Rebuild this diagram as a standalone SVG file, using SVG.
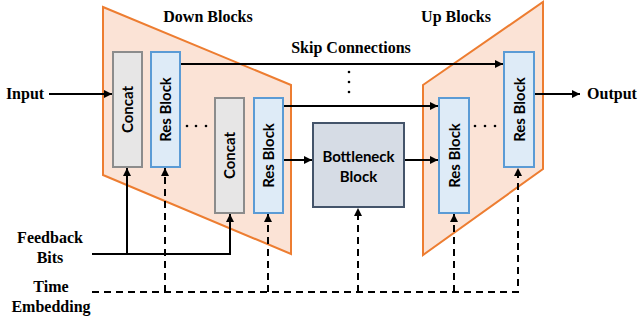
<svg xmlns="http://www.w3.org/2000/svg" width="639" height="323" viewBox="0 0 639 323">
  <defs>
    <marker id="arr" viewBox="0 0 10 10" refX="10" refY="5" markerWidth="4" markerHeight="4" orient="auto" markerUnits="strokeWidth">
      <path d="M0,0 L10,5 L0,10 z" fill="#000"/>
    </marker>
    <style>
      .stage { fill: #FBE3D6; stroke: #ED7D31; stroke-width: 2; }
      .concat { fill: #E7E6E6; stroke: #8C8C8C; stroke-width: 2; }
      .res { fill: #DEEBF7; stroke: #5B9BD5; stroke-width: 2; }
      .neck { fill: #D6DCE5; stroke: #44546A; stroke-width: 2; }
      .lbl { font-family: Lato, "Open Sans", "Liberation Sans", sans-serif; font-weight: bold; font-size: 15px; fill: #000; text-anchor: middle; }
      .cap { font-family: "Liberation Serif", "Times New Roman", serif; font-weight: bold; font-size: 16px; fill: #000; text-anchor: middle; }
      .solid { fill: none; stroke: #000; stroke-width: 2; }
      .dash { fill: none; stroke: #000; stroke-width: 2; stroke-dasharray: 7 5; }
      .dot { fill: #000; }
    </style>
  </defs>

  <!-- encoder / decoder stage outlines -->
  <g id="down-stage">
    <polygon class="stage" points="103,7 291,85 291,254 103,175"/>
  </g>
  <g id="up-stage">
    <polygon class="stage" points="423,85 543,2 543,169 423,255"/>
  </g>

  <!-- titles -->
  <text class="cap" x="208" y="22">Down Blocks</text>
  <text class="cap" x="456" y="22">Up Blocks</text>
  <text class="cap" x="351" y="53">Skip Connections</text>

  <!-- connectors -->
  <g id="connectors">
    <line class="solid" x1="49" y1="94" x2="112" y2="94" marker-end="url(#arr)"/>
    <line class="solid" x1="534" y1="94" x2="580" y2="94" marker-end="url(#arr)"/>
    <line class="solid" x1="180" y1="64" x2="503" y2="64" marker-end="url(#arr)"/>
    <line class="solid" x1="283" y1="106" x2="438" y2="106" marker-end="url(#arr)"/>
    <line class="solid" x1="283" y1="160" x2="312" y2="160" marker-end="url(#arr)"/>
    <line class="solid" x1="404" y1="160" x2="438" y2="160" marker-end="url(#arr)"/>
    <!-- feedback bits -->
    <polyline class="solid" points="92,254 230,254 230,214" marker-end="url(#arr)"/>
    <line class="solid" x1="127" y1="254" x2="127" y2="168" marker-end="url(#arr)"/>
    <!-- time embedding -->
    <polyline class="dash" points="92,292 518,292 518,168" marker-end="url(#arr)"/>
    <line class="dash" x1="165" y1="292" x2="165" y2="168" marker-end="url(#arr)"/>
    <line class="dash" x1="268" y1="292" x2="268" y2="214" marker-end="url(#arr)"/>
    <line class="dash" x1="358" y1="292" x2="358" y2="208" marker-end="url(#arr)"/>
    <line class="dash" x1="454" y1="292" x2="454" y2="214" marker-end="url(#arr)"/>
    <!-- ellipses -->
    <circle class="dot" cx="349" cy="72" r="1.3"/>
    <circle class="dot" cx="349" cy="82" r="1.3"/>
    <circle class="dot" cx="349" cy="92" r="1.3"/>
    <circle class="dot" cx="187" cy="126" r="1.3"/>
    <circle class="dot" cx="196" cy="126" r="1.3"/>
    <circle class="dot" cx="206" cy="126" r="1.3"/>
    <circle class="dot" cx="475" cy="126" r="1.3"/>
    <circle class="dot" cx="485" cy="126" r="1.3"/>
    <circle class="dot" cx="495" cy="126" r="1.3"/>
  </g>

  <!-- down path blocks -->
  <g id="concat-1">
    <rect class="concat" x="113" y="52" width="29" height="115"/>
    <text class="lbl" transform="translate(133,109.5) rotate(-90)">Concat</text>
  </g>
  <g id="res-down-1">
    <rect class="res" x="151" y="52" width="29" height="115"/>
    <text class="lbl" transform="translate(171,109.5) rotate(-90)">Res Block</text>
  </g>
  <g id="concat-2">
    <rect class="concat" x="215" y="98" width="29" height="115"/>
    <text class="lbl" transform="translate(235,155.5) rotate(-90)">Concat</text>
  </g>
  <g id="res-down-2">
    <rect class="res" x="254" y="98" width="29" height="115"/>
    <text class="lbl" transform="translate(274,155.5) rotate(-90)">Res Block</text>
  </g>

  <!-- bottleneck -->
  <g id="bottleneck">
    <rect class="neck" x="313" y="123" width="91" height="84"/>
    <text class="lbl" x="358.5" y="162">Bottleneck</text>
    <text class="lbl" x="358.5" y="182">Block</text>
  </g>

  <!-- up path blocks -->
  <g id="res-up-1">
    <rect class="res" x="439" y="98" width="30" height="115"/>
    <text class="lbl" transform="translate(459.5,155.5) rotate(-90)">Res Block</text>
  </g>
  <g id="res-up-2">
    <rect class="res" x="504" y="52" width="30" height="115"/>
    <text class="lbl" transform="translate(524.5,109.5) rotate(-90)">Res Block</text>
  </g>

  <!-- inputs and outputs -->
  <g id="input">
    <text class="cap" x="25" y="99">Input</text>
  </g>
  <g id="output">
    <text class="cap" x="612" y="99">Output</text>
  </g>
  <g id="feedback-bits">
    <text class="cap" x="50" y="243">Feedback</text>
    <text class="cap" x="50" y="263">Bits</text>
  </g>
  <g id="time-embedding">
    <text class="cap" x="51" y="292">Time</text>
    <text class="cap" x="51" y="312">Embedding</text>
  </g>
</svg>
